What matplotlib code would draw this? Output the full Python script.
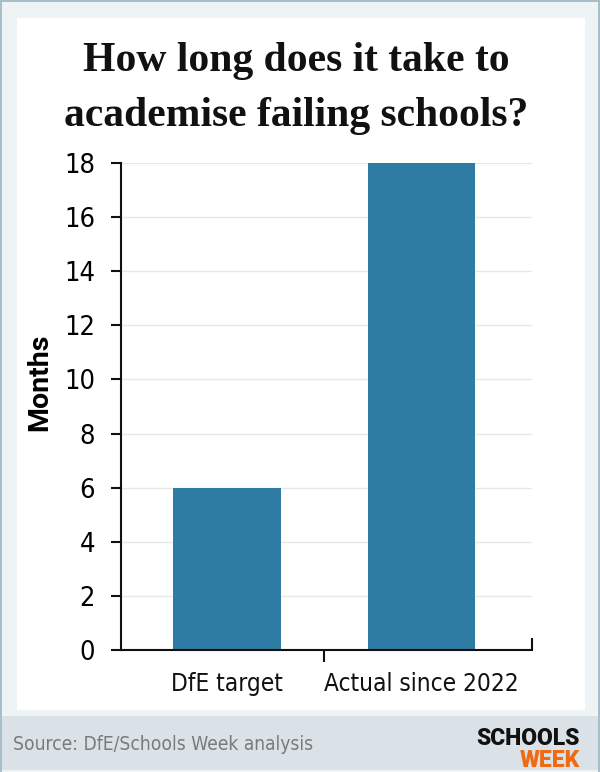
import matplotlib
matplotlib.use("Agg")
import matplotlib.pyplot as plt
from matplotlib import font_manager as fm
from matplotlib.patches import Rectangle

# ---- data -------------------------------------------------------------
categories = ["DfE target", "Actual since 2022"]
months = [6, 18]
y_ticks = [0, 2, 4, 6, 8, 10, 12, 14, 16, 18]

TITLE_1 = "How long does it take to"
TITLE_2 = "academise failing schools?"
SOURCE = "Source: DfE/Schools Week analysis"

BAR = "#2e7ba3"
OUTER = "#eef3f5"
FOOTER = "#dae2e8"
EDGE = "#a9bec8"
GRID = "#e8e8e8"


def narrow_font():
    """pick a condensed sans face if one is installed, else Roboto"""
    faces = fm.fontManager.ttflist
    for want in ["Liberation Sans Narrow", "DejaVu Sans"]:
        for f in faces:
            if f.name == want and f.style == "normal" and f.weight in (400, "normal") \
                    and (want != "DejaVu Sans" or "Condensed" in f.fname):
                return f.fname
    for f in faces:
        if ("Condensed" in f.fname or "Narrow" in f.fname) and f.style == "normal" \
                and "Bold" not in f.fname and "Light" not in f.fname:
            return f.fname
    return fm.findfont(fm.FontProperties(family="Roboto"))


NARROW_FILE = narrow_font()


def narrow(size):
    return fm.FontProperties(fname=NARROW_FILE, size=size)


W, H = 600, 772
PT = 72 / 100  # points per pixel at dpi 100
fig = plt.figure(figsize=(W / 100, H / 100), dpi=100)
fig.patch.set_facecolor(OUTER)


def px(x, y):
    """pixel (from top-left) -> figure fraction"""
    return x / W, 1 - y / H


# panels
fig.add_artist(Rectangle(px(17, 710), (585 - 17) / W, (710 - 18) / H,
                         transform=fig.transFigure, facecolor="white",
                         edgecolor="none", zorder=0))
fig.add_artist(Rectangle(px(0, 770), 1, (770 - 716) / H,
                         transform=fig.transFigure, facecolor=FOOTER,
                         edgecolor="none", zorder=0))
# thin frame on left/top/right
for (x0, y0, w, h) in [(0, 0, 2, H), (0, 0, W, 2), (W - 2, 0, 2, H)]:
    fig.add_artist(Rectangle(px(x0, y0 + h), w / W, h / H,
                             transform=fig.transFigure, facecolor=EDGE,
                             edgecolor="none", zorder=0))

# ---- title ------------------------------------------------------------
tx, ty1 = px(296, 71)
_, ty2 = px(296, 126)
title_kw = dict(ha="center", va="baseline", fontsize=30, fontweight="bold",
                family=["Liberation Serif", "DejaVu Serif"], color="#111111")
fig.text(tx, ty1, TITLE_1, **title_kw)
fig.text(tx, ty2, TITLE_2, **title_kw)

# ---- axes -------------------------------------------------------------
left, right, top, bottom = 121, 532, 163, 650
l, b = px(left, bottom)
ax = fig.add_axes([l, b, (right - left) / W, (bottom - top) / H])
ax.set_facecolor("none")

x = list(range(len(categories)))
ax.bar(x, months, width=0.555, color=BAR, zorder=2)

ax.set_xlim(-0.545, 1.568)
ax.set_ylim(0, 18)
ax.set_yticks(y_ticks)
ax.set_yticklabels([str(v) for v in y_ticks], fontproperties=narrow(19.5))
ax.yaxis.grid(True, color=GRID, linewidth=1, zorder=0)
ax.set_axisbelow(True)

# x axis: category labels without ticks, one divider tick between bars
ax.set_xticks([0.5])
ax.set_xticklabels([""])
ax.tick_params(axis="x", length=12 * PT, width=1.5, color="#111111")
ax.tick_params(axis="y", length=10 * PT, width=1.5, color="#111111",
               pad=16 * PT)
for i, c in enumerate(categories):
    ax.text(i, -0.085, c, transform=ax.get_xaxis_transform(), ha="center",
            va="baseline", fontproperties=narrow(17.5), color="#111111")
# upward end tick at the right of the x axis
ax.plot([1, 1], [0, 12 / (bottom - top)], transform=ax.transAxes,
        color="#111111", lw=1.5, clip_on=False, solid_capstyle="butt")

for s in ["top", "right"]:
    ax.spines[s].set_visible(False)
for s in ["left", "bottom"]:
    ax.spines[s].set_linewidth(1.5)
    ax.spines[s].set_color("#111111")

ax.set_ylabel("Months", family=["Roboto", "DejaVu Sans"], fontweight="bold",
              fontsize=20.5)
ax.yaxis.set_label_coords((53 - left) / (right - left),
                          (bottom - 382) / (bottom - top))

# ---- footer -----------------------------------------------------------
sx, sy = px(13, 745)
fig.text(sx, sy, SOURCE, ha="left", va="center", fontproperties=narrow(13.8),
         color="#7a7a7a")
lx, ly1 = px(580, 745)
_, ly2 = px(580, 767)
fig.text(lx, ly1, "SCHOOLS", ha="right", va="baseline", fontsize=16.5,
         fontweight="heavy", family=["Roboto", "DejaVu Sans"], color="#111111")
fig.text(lx, ly2, "WEEK", ha="right", va="baseline", fontsize=16.5,
         fontweight="heavy", family=["Roboto", "DejaVu Sans"], color="#f06a12")

fig.savefig("out.png", dpi=100, facecolor=fig.get_facecolor())
